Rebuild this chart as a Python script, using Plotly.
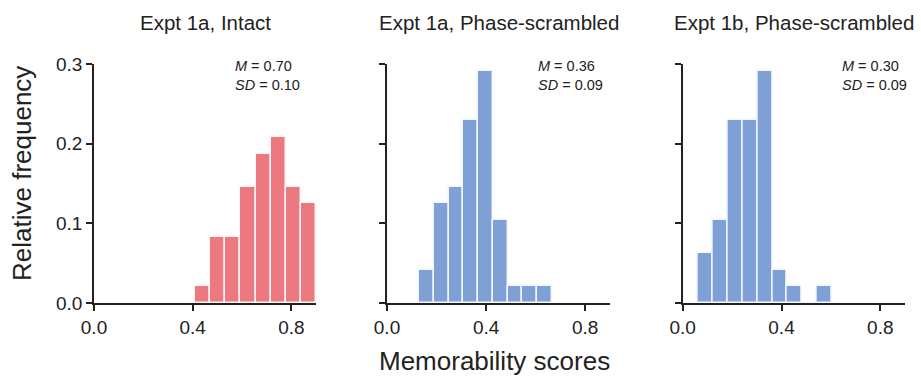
import plotly.graph_objects as go

# ---------------- data ----------------
panel_titles = ["Expt 1a, Intact", "Expt 1a, Phase-scrambled", "Expt 1b, Phase-scrambled"]
n_items = 48

# panel 1: Expt 1a, Intact
bins1_start = 0.41
bins1_width = 0.06125
counts1 = [1, 4, 4, 7, 9, 10, 7, 6]

# panel 2: Expt 1a, Phase-scrambled
bins2_start = 0.129
bins2_width = 0.0596
counts2 = [2, 6, 7, 11, 14, 5, 1, 1, 1]

# panel 3: Expt 1b, Phase-scrambled
bins3_start = 0.061
bins3_width = 0.0603
counts3 = [3, 5, 11, 11, 14, 2, 1, 0, 1]

means = ["0.70", "0.36", "0.30"]
sds = ["0.10", "0.09", "0.09"]

x_ticks = [0.0, 0.4, 0.8]
x_tick_labels = ["0.0", "0.4", "0.8"]
y_ticks = [0.0, 0.1, 0.2, 0.3]
y_tick_labels = ["0.0", "0.1", "0.2", "0.3"]

colors = ["#EC7980", "#7FA0D4", "#7FA0D4"]

# ---------------- figure ----------------
W, H = 921, 378
FONT = "Liberation Sans, Arial, Helvetica, sans-serif"
AXC = "#222222"

x_domains = [[94 / W, 316 / W], [387 / W, 610 / W], [682.7 / W, 905 / W]]
y_domain = [1 - 303 / H, 1 - 64 / H]

fig = go.Figure()

panels = [
    (bins1_start, bins1_width, counts1),
    (bins2_start, bins2_width, counts2),
    (bins3_start, bins3_width, counts3),
]

for i, (start, width, counts) in enumerate(panels):
    centers = [start + width * (k + 0.5) for k in range(len(counts))]
    rel = [c / n_items for c in counts]
    sfx = "" if i == 0 else str(i + 1)
    fig.add_trace(go.Bar(
        x=centers, y=rel, width=[width] * len(counts),
        marker=dict(color=colors[i], line=dict(color="#FFF4F4" if i == 0 else "#F2F6FF", width=1.5)),
        xaxis="x" + sfx, yaxis="y" + sfx, showlegend=False,
        hoverinfo="x+y",
    ))
    fig.layout["xaxis" + sfx] = dict(
        domain=x_domains[i], range=[0, 0.9], anchor="y" + sfx,
        tickvals=x_ticks, ticktext=x_tick_labels,
        ticks="outside", ticklen=6, tickwidth=1.5, tickcolor=AXC,
        showline=True, linecolor=AXC, linewidth=1.5,
        showgrid=False, zeroline=False, automargin=False,
        tickfont=dict(family=FONT, size=19, color="#222222"),
        fixedrange=True,
    )
    fig.layout["yaxis" + sfx] = dict(
        domain=y_domain, range=[0, 0.3], anchor="x" + sfx,
        tickvals=y_ticks, ticktext=y_tick_labels if i == 0 else ["", "", "", ""],
        ticks="outside", ticklen=6, tickwidth=1.5, tickcolor=AXC,
        showline=True, linecolor=AXC, linewidth=1.5,
        showgrid=False, zeroline=False, showticklabels=(i == 0), automargin=False,
        tickfont=dict(family=FONT, size=19, color="#222222"),
        fixedrange=True,
    )

annotations = []
ann_x = [0.565, 0.60, 0.638]
for i in range(3):
    sfx = "" if i == 0 else str(i + 1)
    # panel title
    annotations.append(dict(
        text=panel_titles[i], xref="paper", yref="paper",
        x=(x_domains[i][0] + x_domains[i][1]) / 2, y=1 - 23 / H,
        xanchor="center", yanchor="middle", showarrow=False,
        font=dict(family=FONT, size=20.5, color="#222222"),
    ))
    annotations.append(dict(
        text="<i>M</i> = " + means[i], xref="x" + sfx, yref="y" + sfx,
        x=ann_x[i], y=0.2975, xanchor="left", yanchor="middle", showarrow=False,
        font=dict(family=FONT, size=14.5, color="#222222"),
    ))
    annotations.append(dict(
        text="<i>SD</i> = " + sds[i], xref="x" + sfx, yref="y" + sfx,
        x=ann_x[i], y=0.2735, xanchor="left", yanchor="middle", showarrow=False,
        font=dict(family=FONT, size=14.5, color="#222222"),
    ))

annotations.append(dict(
    text="Relative frequency", xref="paper", yref="paper",
    x=22 / W, y=1 - 174 / H, xanchor="center", yanchor="middle",
    textangle=-90, showarrow=False,
    font=dict(family=FONT, size=26, color="#222222"),
))
annotations.append(dict(
    text="Memorability scores", xref="paper", yref="paper",
    x=494 / W, y=1 - 361 / H, xanchor="center", yanchor="middle",
    showarrow=False,
    font=dict(family=FONT, size=26, color="#222222"),
))

fig.update_layout(
    width=W, height=H,
    margin=dict(l=0, r=0, t=0, b=0, autoexpand=False),
    paper_bgcolor="white", plot_bgcolor="white",
    bargap=0, annotations=annotations,
    font=dict(family=FONT, color="#222222"),
)

fig.write_html("out.html", config={"displayModeBar": False})
